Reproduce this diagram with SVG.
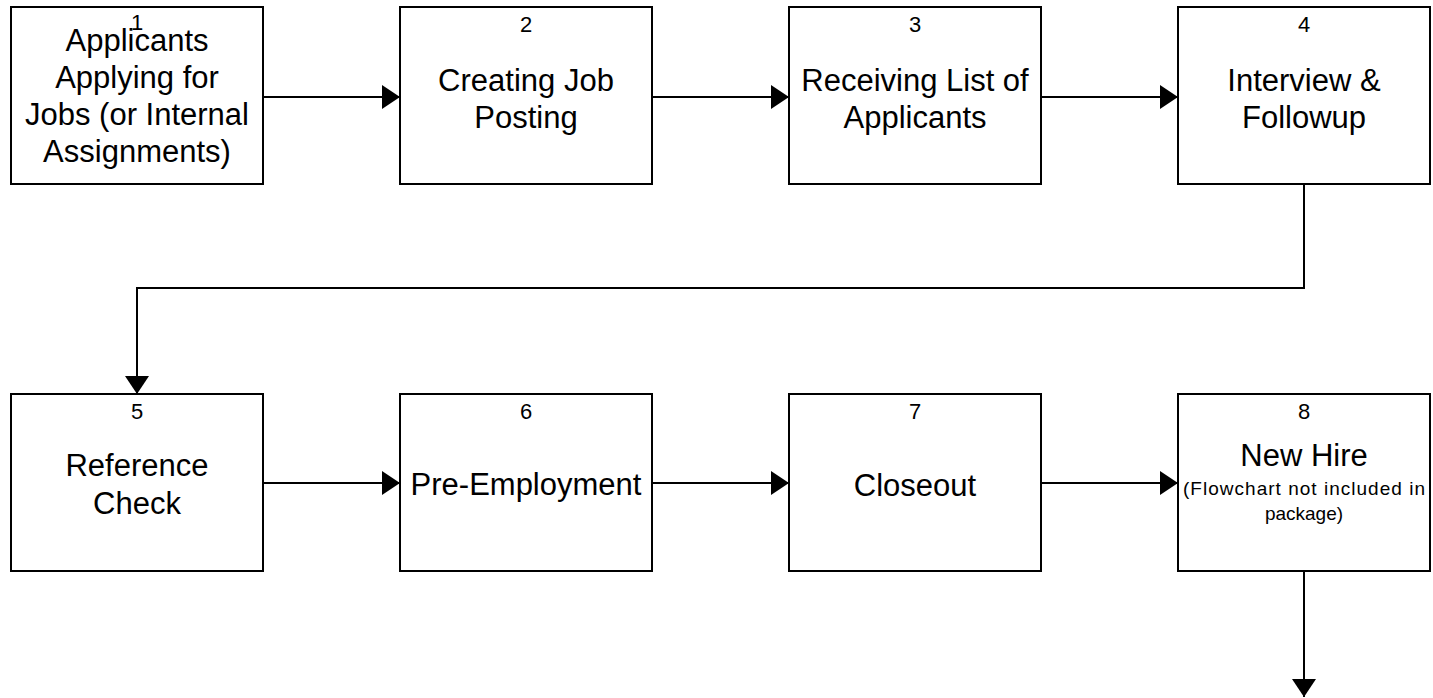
<svg xmlns="http://www.w3.org/2000/svg" width="1433" height="698" viewBox="0 0 1433 698">
  <style>
    .box { fill: #ffffff; stroke: #000000; stroke-width: 2; }
    .num { font-family: "Liberation Sans", Arial, sans-serif; font-size: 22px; fill: #000000; text-anchor: middle; }
    .lbl { font-family: "Liberation Sans", Arial, sans-serif; font-size: 31px; fill: #000000; text-anchor: middle; }
    .note { font-family: "Liberation Sans", Arial, sans-serif; font-size: 19px; fill: #000000; text-anchor: middle; }
    .wire { fill: none; stroke: #000000; stroke-width: 2; marker-end: url(#head); }
  </style>
  <defs>
    <marker id="head" markerUnits="userSpaceOnUse" markerWidth="19" markerHeight="24" refX="18" refY="12" orient="auto">
      <path d="M0,0 L18,12 L0,24 Z" fill="#000000"/>
    </marker>
  </defs>
  <rect width="1433" height="698" fill="#ffffff"/>

  <g id="connectors">
    <path class="wire" d="M263,97 H400"/>
    <path class="wire" d="M652,97 H789"/>
    <path class="wire" d="M1041,97 H1178"/>
    <path class="wire" d="M1304,184 V288 H137 V394"/>
    <path class="wire" d="M263,483 H400"/>
    <path class="wire" d="M652,483 H789"/>
    <path class="wire" d="M1041,483 H1178"/>
    <path class="wire" d="M1304,572 V697"/>
  </g>

  <g id="node1">
    <rect class="box" x="11" y="7" width="252" height="177"/>
    <text class="num" x="137" y="30">1</text>
    <text class="lbl" x="137" y="51">Applicants</text>
    <text class="lbl" x="137" y="88">Applying for</text>
    <text class="lbl" x="137" y="125">Jobs (or Internal</text>
    <text class="lbl" x="137" y="162">Assignments)</text>
  </g>

  <g id="node2">
    <rect class="box" x="400" y="7" width="252" height="177"/>
    <text class="num" x="526" y="32">2</text>
    <text class="lbl" x="526" y="91">Creating Job</text>
    <text class="lbl" x="526" y="128">Posting</text>
  </g>

  <g id="node3">
    <rect class="box" x="789" y="7" width="252" height="177"/>
    <text class="num" x="915" y="32">3</text>
    <text class="lbl" x="915" y="91">Receiving List of</text>
    <text class="lbl" x="915" y="128">Applicants</text>
  </g>

  <g id="node4">
    <rect class="box" x="1178" y="7" width="252" height="177"/>
    <text class="num" x="1304" y="32">4</text>
    <text class="lbl" x="1304" y="91">Interview &amp;</text>
    <text class="lbl" x="1304" y="128">Followup</text>
  </g>

  <g id="node5">
    <rect class="box" x="11" y="394" width="252" height="177"/>
    <text class="num" x="137" y="419">5</text>
    <text class="lbl" x="137" y="476">Reference</text>
    <text class="lbl" x="137" y="514">Check</text>
  </g>

  <g id="node6">
    <rect class="box" x="400" y="394" width="252" height="177"/>
    <text class="num" x="526" y="419">6</text>
    <text class="lbl" x="526" y="495">Pre-Employment</text>
  </g>

  <g id="node7">
    <rect class="box" x="789" y="394" width="252" height="177"/>
    <text class="num" x="915" y="419">7</text>
    <text class="lbl" x="915" y="496">Closeout</text>
  </g>

  <g id="node8">
    <rect class="box" x="1178" y="394" width="252" height="177"/>
    <text class="num" x="1304" y="419">8</text>
    <text class="lbl" x="1304" y="466">New Hire</text>
    <text class="note" x="1304" y="495" textLength="242" lengthAdjust="spacing">(Flowchart not included in</text>
    <text class="note" x="1304" y="520">package)</text>
  </g>
</svg>
